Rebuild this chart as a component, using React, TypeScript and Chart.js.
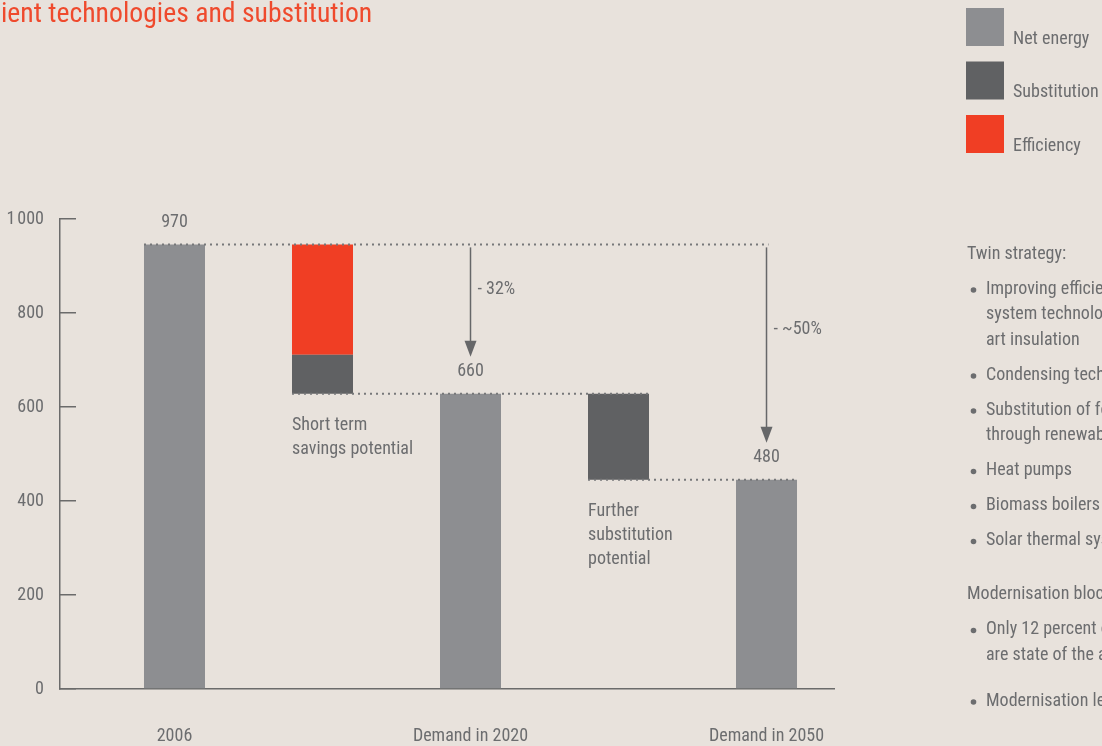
import React, { useEffect, useRef } from "react";
import { Chart, registerables } from "chart.js";

Chart.register(...registerables);

const FONT = "'Roboto Condensed', 'DejaVu Sans Condensed', sans-serif";
const BG = "#e8e2dc";
const TEXT = "#6c6d6f";
const LINE = "#6b6b6b";
const DOT = "#77787a";

const titleText = "ient technologies and substitution";
const xTickLabels = ["2006", "", "Demand in 2020", "", "Demand in 2050"];
const xTickPositions = [1, 3, 5];
const netEnergyX = [1, 3, 5];
const netEnergyValues = [946, 628, 445];
const netEnergyLabels = ["970", "660", "480"];
const substitutionX = [2, 4];
const substitutionRanges: [number, number][] = [
  [628, 711],
  [445, 628],
];
const efficiencyX = [2];
const efficiencyRanges: [number, number][] = [[711, 946]];
const yTickValues = [0, 200, 400, 600, 800, 1000];
const reductionLabels = ["- 32%", "- ~50%"];
const reductionLabelValues = [849, 764];
const stepNotes = [
  ["Short term", "savings potential"],
  ["Further", "substitution", "potential"],
];
const legendLabels = ["Net energy", "Substitution", "Efficiency"];
const legendColors = ["#8d8e91", "#606163", "#f03e24"];
const panelHeadings = ["Twin strategy:", "Modernisation blockage:"];
const twinStrategyBullets = [
  ["Improving efficiency through modern", "system technology and state of the", "art insulation"],
  ["Condensing technology"],
  ["Substitution of fossil fuels", "through renewable energies"],
  ["Heat pumps"],
  ["Biomass boilers"],
  ["Solar thermal systems"],
];
const modernisationBullets = [
  ["Only 12 percent of heating systems", "are state of the art"],
  ["Modernisation level"],
];

const annotationPlugin = {
  id: "annotations",
  afterDatasetsDraw(chart: any) {
    const { ctx, scales } = chart;
    const y = scales.y;
    const net = chart.getDatasetMeta(0).data;
    const sub = chart.getDatasetMeta(1).data;
    const left = (b: any) => b.x - b.width / 2;
    const right = (b: any) => b.x + b.width / 2;

    ctx.save();
    ctx.strokeStyle = DOT;
    ctx.lineWidth = 2;
    ctx.setLineDash([2, 4]);
    const dotted = (x1: number, x2: number, yy: number) => {
      ctx.beginPath();
      ctx.moveTo(x1, yy);
      ctx.lineTo(x2, yy);
      ctx.stroke();
    };
    const topY = y.getPixelForValue(netEnergyValues[0]);
    dotted(left(net[0]), net[2].x + 2, topY);
    dotted(left(sub[0]), right(sub[1]), y.getPixelForValue(netEnergyValues[1]));
    dotted(left(sub[1]), right(net[2]), y.getPixelForValue(netEnergyValues[2]));
    ctx.setLineDash([]);

    ctx.strokeStyle = "#666769";
    ctx.fillStyle = "#666769";
    ctx.lineWidth = 1.5;
    [1, 2].forEach((i) => {
      const b = net[i];
      const tip = b.y - 37;
      ctx.beginPath();
      ctx.moveTo(b.x, topY + 3);
      ctx.lineTo(b.x, tip - 10);
      ctx.stroke();
      ctx.beginPath();
      ctx.moveTo(b.x - 6, tip - 16);
      ctx.lineTo(b.x + 6, tip - 16);
      ctx.lineTo(b.x, tip);
      ctx.closePath();
      ctx.fill();
    });

    ctx.fillStyle = TEXT;
    ctx.textBaseline = "middle";
    ctx.font = `18px ${FONT}`;
    ctx.textAlign = "center";
    net.forEach((b: any, i: number) => {
      ctx.fillText(netEnergyLabels[i], b.x, b.y - 22);
    });
    ctx.textAlign = "left";
    reductionLabels.forEach((t, i) => {
      const b = net[i + 1];
      ctx.fillText(t, b.x + 7, y.getPixelForValue(reductionLabelValues[i]));
    });
    ctx.font = `18px ${FONT}`;
    stepNotes.forEach((lines, i) => {
      const b = sub[i];
      const bottom = Math.max(b.y, b.base);
      lines.forEach((t, k) => ctx.fillText(t, left(b), bottom + 32 + k * 24));
    });
    ctx.restore();
  },
  afterDraw(chart: any) {
    const { ctx } = chart;
    ctx.save();
    ctx.fillStyle = "#ef4a2d";
    ctx.font = `27.7px ${FONT}`;
    ctx.textBaseline = "alphabetic";
    ctx.textAlign = "left";
    ctx.fillText(titleText, 1, 22);

    ctx.font = `18px ${FONT}`;
    ctx.textBaseline = "middle";
    chart.data.datasets.forEach((ds: any, i: number) => {
      const top = 8 + i * 53.5;
      ctx.fillStyle = ds.backgroundColor;
      ctx.fillRect(966, top, 38, 38);
      ctx.fillStyle = TEXT;
      ctx.fillText(ds.label, 1013, top + 31);
    });

    ctx.font = `18px ${FONT}`;
    let yy = 254;
    const sections = [twinStrategyBullets, modernisationBullets];
    const bulletGaps = [35, 46];
    sections.forEach((bullets, s) => {
      ctx.fillStyle = TEXT;
      ctx.fillText(panelHeadings[s], 967, yy);
      yy += 35;
      bullets.forEach((lines, bi) => {
        ctx.beginPath();
        ctx.arc(973.5, yy + 1, 2.8, 0, Math.PI * 2);
        ctx.fill();
        lines.forEach((t, k) => {
          ctx.fillText(t, 986, yy);
          if (k < lines.length - 1) yy += 25.5;
        });
        if (bi < bullets.length - 1) yy += bulletGaps[s];
      });
      yy += 54;
    });
    ctx.restore();
  },
};

export default function App() {
  const ref = useRef<HTMLCanvasElement>(null);
  useEffect(() => {
    if (!ref.current) return;
    const chart = new Chart(ref.current, {
      type: "bar",
      data: {
        datasets: [
          {
            label: legendLabels[0],
            data: netEnergyX.map((x, i) => ({ x, y: netEnergyValues[i] })),
            backgroundColor: legendColors[0],
          },
          {
            label: legendLabels[1],
            data: substitutionX.map((x, i) => ({ x, y: substitutionRanges[i] })),
            backgroundColor: legendColors[1],
          },
          {
            label: legendLabels[2],
            data: efficiencyX.map((x, i) => ({ x, y: efficiencyRanges[i] })),
            backgroundColor: legendColors[2],
          },
        ] as any,
      },
      options: {
        responsive: false,
        maintainAspectRatio: false,
        devicePixelRatio: 1,
        animation: false,
        layout: { padding: { left: 0, right: 268, top: 219, bottom: 0 } },
        datasets: {
          bar: {
            grouped: false,
            maxBarThickness: 61,
            borderWidth: 0,
            categoryPercentage: 0.8,
            barPercentage: 0.9,
          },
        } as any,
        plugins: {
          legend: { display: false },
          tooltip: { enabled: false },
          title: { display: false },
        },
        scales: {
          x: {
            type: "linear",
            offset: false,
            min: 0.2264,
            max: 5.456,
            afterBuildTicks: (s: any) => {
              s.ticks = xTickPositions.map((v) => ({ value: v }));
            },
            afterFit: (s: any) => {
              s.height = 57;
            },
            ticks: {
              callback: (v: any) => xTickLabels[Math.round(Number(v)) - 1],
              padding: 37,
              color: TEXT,
              font: { size: 18, family: FONT },
              maxRotation: 0,
              autoSkip: false,
            },
            grid: { display: true, offset: false, drawOnChartArea: false, drawTicks: false, color: LINE },
            border: { display: true, color: LINE, width: 1.5 },
          },
          y: {
            type: "linear",
            min: 0,
            max: 1000,
            afterBuildTicks: (s: any) => {
              s.ticks = yTickValues.map((v) => ({ value: v }));
            },
            afterFit: (s: any) => {
              s.width = 60;
            },
            ticks: {
              callback: (v: any) => (Number(v) >= 1000 ? "1\u200A000" : String(v)),
              padding: 32,
              color: TEXT,
              font: { size: 18, family: FONT },
            },
            grid: {
              display: true,
              drawOnChartArea: false,
              drawTicks: true,
              tickLength: -16,
              color: LINE,
              lineWidth: 1.5,
            },
            border: { display: true, color: LINE, width: 1.5 },
          },
        },
      },
      plugins: [annotationPlugin],
    });
    return () => chart.destroy();
  }, []);

  return (
    <div style={{ position: "fixed", left: 0, top: 0, width: 1102, height: 746, background: BG, overflow: "hidden" }}>
      <canvas ref={ref} width={1102} height={746} style={{ display: "block", width: 1102, height: 746 }} />
    </div>
  );
}
